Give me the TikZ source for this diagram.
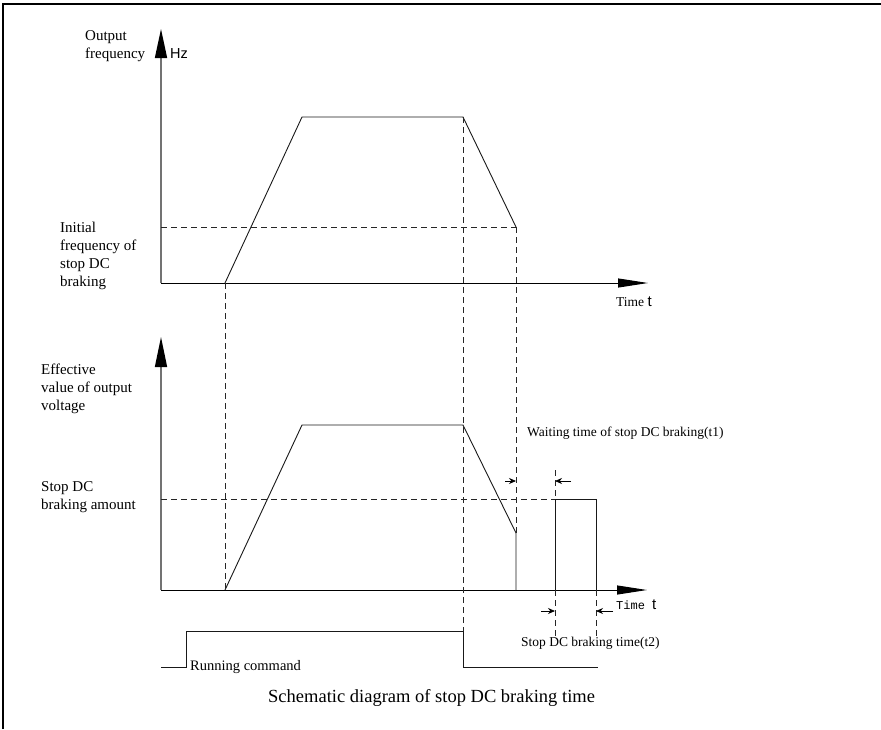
\documentclass[tikz,border=0pt]{standalone}
\usepackage{fontspec}
\setmainfont{Liberation Serif}
\newfontfamily\arialf{Liberation Sans}
\newfontfamily\monof{Liberation Mono}
\usetikzlibrary{arrows.meta}
\begin{document}
\begin{tikzpicture}[x=1pt,y=-1pt,
  axisv/.style={draw=black!55,line width=1.5pt},
  axish/.style={draw=black,line width=1pt},
  sig/.style={draw=black!90,line width=0.9pt,line join=miter},
  dsh/.style={draw=black!85,line width=0.9pt,dash pattern=on 6pt off 4pt},
  small/.style={-{Stealth[length=7pt,width=6pt]},line width=0.8pt},
  lbl/.style={anchor=north west,inner sep=0pt,font=\fontsize{15}{18}\selectfont,align=left},
  slbl/.style={anchor=base west,inner sep=0pt,font=\fontsize{13.5}{16}\selectfont},
  frame/.style={draw=black,line width=2pt}]
\useasboundingbox (0,0) rectangle (881,729);
% frame
\coordinate (fTL) at (3,4);
\coordinate (fTR) at (881,4);
\coordinate (fBL) at (3,729);
\draw[frame] (fBL) -- (fTL) -- (fTR);
% axes
\coordinate (O1) at (161,283);
\coordinate (Y1) at (161,29);
\coordinate (X1) at (648,283);
\coordinate (O2) at (161,590);
\coordinate (Y2) at (161,337);
\coordinate (X2) at (647,590);
\draw[axisv,-{Triangle[length=29pt,width=12pt,color=black]}] (O1) -- (Y1);
\draw[axish,-{Triangle[length=30pt,width=9pt]}] (O1) -- (X1);
\draw[axisv,-{Triangle[length=30pt,width=12pt,color=black]}] (O2) -- (Y2);
\draw[axish,-{Triangle[length=30pt,width=9pt]}] (O2) -- (X2);
% top curve
\coordinate (a1) at (225,283);
\coordinate (b1) at (302,117);
\coordinate (c1) at (463,117);
\coordinate (d1) at (516,227);
\coordinate (h1) at (161,227);
\draw[sig] (a1) -- (b1) -- (c1) -- (d1);
\draw[dsh] (h1) -- (d1);
% lower curve
\coordinate (a2) at (225,590);
\coordinate (b2) at (302,425);
\coordinate (c2) at (463,425);
\coordinate (d2) at (516,533);
\coordinate (e2) at (516,590);
\draw[sig] (a2) -- (b2) -- (c2) -- (d2) -- (e2);
% verticals
\coordinate (rc1) at (463,631);
\draw[dsh] (a1) -- (a2);
\draw[dsh] (c1) -- (rc1);
\draw[dsh] (d1) -- (d2);
% braking pulse
\coordinate (h2) at (161,499);
\coordinate (p1) at (555,590);
\coordinate (p2) at (555,499);
\coordinate (p3) at (596,499);
\coordinate (p4) at (596,590);
\coordinate (p2t) at (555,470);
\coordinate (p1b) at (555,640);
\coordinate (p4b) at (596,640);
\draw[dsh] (h2) -- (p2);
\draw[sig] (p1) -- (p2) -- (p3) -- (p4);
\draw[dsh] (p2t) -- (p2);
\draw[dsh] (p1) -- (p1b);
\draw[dsh] (p4) -- (p4b);
% interval arrows
\coordinate (w1s) at (505,481);
\coordinate (w1e) at (516,481);
\coordinate (w2s) at (571,481);
\coordinate (w2e) at (555,481);
\coordinate (t1s) at (541,611);
\coordinate (t1e) at (555,611);
\coordinate (t2s) at (613,611);
\coordinate (t2e) at (596,611);
\draw[small] (w1s) -- (w1e);
\draw[small] (w2s) -- (w2e);
\draw[small] (t1s) -- (t1e);
\draw[small] (t2s) -- (t2e);
% running command
\coordinate (r0) at (161,667);
\coordinate (r1) at (186,667);
\coordinate (r2) at (186,631);
\coordinate (r4) at (463,667);
\coordinate (r5) at (598,667);
\draw[sig] (r0) -- (r1) -- (r2) -- (rc1) -- (r4) -- (r5);
% labels (north west = top of first line; first baseline ~ 10.5 below)
\node[lbl] (lof) at (85,30.2) {Output\\frequency};
\node[anchor=base west,inner sep=0pt,font=\arialf\fontsize{14.5}{17}\selectfont] (lhz) at (170,58.3) {Hz};
\node[lbl] (lini) at (60,221.8) {Initial\\frequency of\\stop DC\\braking};
\node[lbl] (leff) at (41,363.8) {Effective\\value of output\\voltage};
\node[lbl] (lamt) at (41,481.5) {Stop DC\\braking amount};
\node[anchor=base west,inner sep=0pt] (lt1) at (616,306.7) {\fontsize{13.5}{16}\selectfont Time \arialf\fontsize{15}{16}\selectfont t};
\node[anchor=base west,inner sep=0pt] (lt2) at (616,609) {\monof\fontsize{12}{16}\selectfont Time \arialf\fontsize{15}{16}\selectfont t};
\node[slbl] (lwait) at (527,436.7) {Waiting time of stop DC braking(t1)};
\node[slbl] (lbt) at (521,646) {Stop DC braking time(t2)};
\node[anchor=base west,inner sep=0pt,font=\fontsize{14.5}{17}\selectfont] (lrun) at (190,670.7) {Running command};
\node[anchor=base west,inner sep=0pt,font=\fontsize{18.5}{22}\selectfont] (lcap) at (268,702.7) {Schematic diagram of stop DC braking time};
\end{tikzpicture}
\end{document}
